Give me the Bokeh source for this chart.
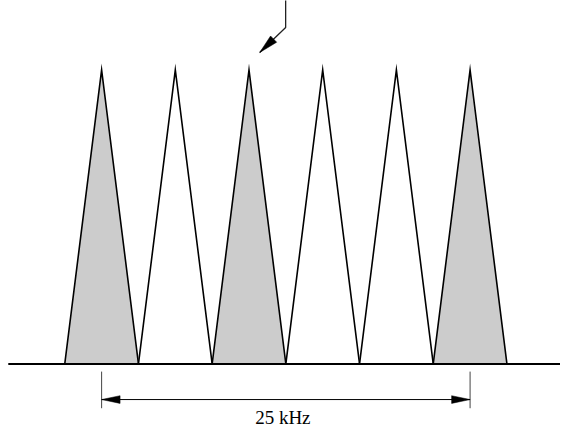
import numpy as np
from bokeh.plotting import figure
from bokeh.models import Range1d
from bokeh.core.properties import value
from bokeh.embed import file_html
from bokeh.resources import INLINE

# ---- data ----
channel_khz = [0, 5, 10, 15, 20, 25]          # channel centre frequencies (kHz, relative)
occupied = [True, False, True, False, False, True]
amplitude = [1.0, 1.0, 1.0, 1.0, 1.0, 1.0]
half_bw_khz = 2.5                              # half of the occupied bandwidth
span_label = "25 kHz"
span_start, span_end = 0, 25
pointed_channel = 10

# ---- geometry (in pixel units of the 576x443 reference) ----
REF_W, REF_H = 576, 443
PX_X0, PX_PER_KHZ = 104.0, 15.16   # reference x of 0 kHz, px per kHz
PX_Y0, PX_PER_UNIT = 377.0, 305.0  # reference y of baseline, px per amplitude unit
W, H = 560, 427

def dx(px):  # pixel distance -> kHz
    return px / PX_PER_KHZ

def dy(px):  # pixel distance (downwards positive) -> amplitude
    return -px / PX_PER_UNIT

x_start = (0 - PX_X0) / PX_PER_KHZ
x_end = (REF_W - PX_X0) / PX_PER_KHZ
y_start = (PX_Y0 - REF_H) / PX_PER_UNIT
y_end = (PX_Y0 - 0) / PX_PER_UNIT

p = figure(width=W, height=H, output_backend="svg", toolbar_location=None,
           x_range=Range1d(x_start, x_end), y_range=Range1d(y_start, y_end),
           min_border=0)
p.axis.visible = False
p.grid.visible = False
p.outline_line_color = None
p.background_fill_color = "white"
p.border_fill_color = "white"

# triangles
xs = [[c - half_bw_khz, c, c + half_bw_khz] for c in channel_khz]
ys = [[0, a, 0] for a in amplitude]
fills = ["#cccccc" if o else "white" for o in occupied]
p.patches(xs, ys, fill_color=fills, line_color="black", line_width=1.6,
          line_join="miter")

# baseline (starts a little right of the left edge)
p.segment(x0=[dx(8 - PX_X0)], y0=[0], x1=[x_end + 1], y1=[0], line_color="black", line_width=2)

# dimension line
y_dim = dy(414 - PX_Y0)
y_t0, y_t1 = dy(385 - PX_Y0), dy(423 - PX_Y0)
for xe in (span_start, span_end):
    p.segment(x0=[xe], y0=[y_t0], x1=[xe], y1=[y_t1], line_color="#444444", line_width=1)
p.segment(x0=[span_start], y0=[y_dim], x1=[span_end], y1=[y_dim], line_color="black", line_width=1)
head_len, head_hw = 19, 4
heads_x = [[span_start, span_start + dx(head_len), span_start + dx(head_len)],
           [span_end, span_end - dx(head_len), span_end - dx(head_len)]]
heads_y = [[y_dim, y_dim + dy(-head_hw), y_dim + dy(head_hw)]] * 2
p.patches(heads_x, heads_y, fill_color="black", line_color="black", line_width=0.5)

p.text(x=[(span_start + span_end) / 2], y=[dy(433 - PX_Y0)], text=[span_label],
       text_font=value("serif"), text_font_size="19px",
       text_align="center", text_baseline="alphabetic", text_color="black",
       x_offset=-3)

# top pointer arrow to the apex of the pointed channel
apex_x, apex_y = pointed_channel, 1.0
tip = np.array([11.0, -18.0])       # px offset of tip from apex (screen coords)
bend = np.array([37.7, -44.0])
top = np.array([37.7, -80.0])
def to_data(v):
    return apex_x + dx(v[0]), apex_y + dy(v[1])
pts = [to_data(top), to_data(bend), to_data(tip)]
p.line([q[0] for q in pts], [q[1] for q in pts], line_color="#222222", line_width=1.3)
d = (bend - tip) / np.linalg.norm(bend - tip)
n = np.array([-d[1], d[0]])
hb = tip + d * 20
h1, h2 = hb + n * 4.5, hb - n * 4.5
hp = [to_data(tip), to_data(h1), to_data(h2)]
p.patch([q[0] for q in hp], [q[1] for q in hp], fill_color="black", line_color="black", line_width=0.5)

open("out.html", "w").write(file_html(p, INLINE))
